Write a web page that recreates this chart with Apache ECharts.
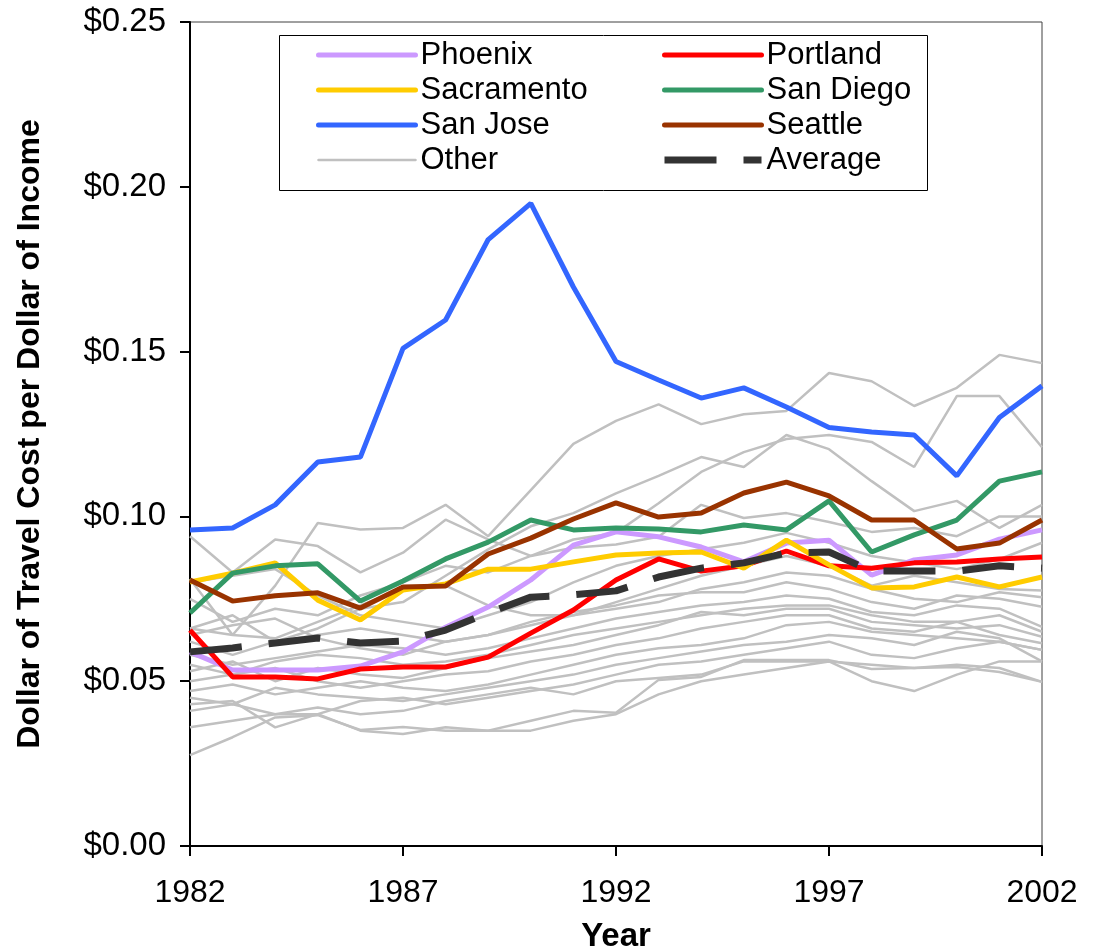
<!DOCTYPE html>
<html>
<head>
<meta charset="utf-8">
<script src="https://cdn.jsdelivr.net/npm/echarts@6/dist/echarts.min.js"></script>
<style>
  html, body { margin: 0; padding: 0; background: #fff; }
  #chart { width: 1095px; height: 952px; }
</style>
</head>
<body>
<div id="chart"></div>
<script>
const years = ['1982','1983','1984','1985','1986','1987','1988','1989','1990','1991','1992',
  '1993','1994','1995','1996','1997','1998','1999','2000','2001','2002'];

const phoenix = [0.0589,0.0534,0.0534,0.0534,0.0546,0.0589,0.0664,0.0725,0.0807,0.0913,0.0953,
  0.0938,0.0907,0.0862,0.0919,0.0928,0.0822,0.0868,0.0883,0.0931,0.0959];
const portland = [0.0655,0.0513,0.0513,0.0507,0.0537,0.0543,0.0543,0.0573,0.0646,0.0716,0.0807,
  0.0871,0.0834,0.0850,0.0895,0.0850,0.0843,0.0859,0.0862,0.0871,0.0877];
const sacramento = [0.0801,0.0828,0.0859,0.0746,0.0686,0.0777,0.0795,0.0840,0.0840,0.0862,0.0883,
  0.0889,0.0892,0.0843,0.0928,0.0853,0.0783,0.0786,0.0816,0.0786,0.0816];
const sanDiego = [0.0707,0.0828,0.0850,0.0856,0.0743,0.0804,0.0871,0.0922,0.0989,0.0959,0.0965,
  0.0962,0.0953,0.0974,0.0959,0.1047,0.0892,0.0944,0.0989,0.1107,0.1135];
const sanJose = [0.0959,0.0965,0.1035,0.1165,0.1180,0.1510,0.1596,0.1840,0.1950,0.1696,0.1470,
  0.1414,0.1359,0.1390,0.1332,0.1270,0.1256,0.1247,0.1123,0.1300,0.1396];
const seattle = [0.0807,0.0743,0.0759,0.0768,0.0722,0.0786,0.0789,0.0886,0.0934,0.0992,0.1041,
  0.0998,0.1010,0.1071,0.1104,0.1062,0.0989,0.0989,0.0901,0.0919,0.0989];
const average = [0.0589,0.0601,0.0616,0.0631,0.0616,0.0622,0.0655,0.0707,0.0755,0.0762,0.0774,
  0.0816,0.0843,0.0859,0.0889,0.0892,0.0834,0.0834,0.0834,0.0850,0.0843];

// remaining metro areas, drawn in gray
const others = [
  [0.081,0.064,0.079,0.098,0.096,0.0965,0.1035,0.094,0.108,0.122,0.129,0.134,0.128,0.131,0.132,0.1435,0.141,0.1335,0.139,0.149,0.1465],
  [0.094,0.083,0.093,0.091,0.083,0.089,0.099,0.093,0.088,0.0905,0.0915,0.0938,0.1035,0.0995,0.101,0.0983,0.0953,0.0965,0.094,0.100,0.100],
  [0.075,0.068,0.072,0.070,0.076,0.080,0.085,0.083,0.088,0.093,0.095,0.104,0.1135,0.1195,0.1235,0.1247,0.1226,0.115,0.1365,0.1365,0.121],
  [0.066,0.070,0.062,0.066,0.072,0.074,0.082,0.090,0.097,0.101,0.107,0.1123,0.118,0.115,0.1247,0.1204,0.1107,0.1016,0.1047,0.0965,0.1035],
  [0.080,0.082,0.084,0.076,0.070,0.068,0.066,0.070,0.074,0.080,0.085,0.088,0.090,0.092,0.095,0.092,0.088,0.086,0.084,0.087,0.092],
  [0.066,0.064,0.063,0.068,0.073,0.078,0.079,0.073,0.070,0.070,0.074,0.078,0.082,0.085,0.088,0.085,0.079,0.082,0.080,0.078,0.0775],
  [0.064,0.067,0.069,0.063,0.060,0.058,0.062,0.064,0.067,0.070,0.072,0.074,0.078,0.080,0.083,0.082,0.078,0.075,0.074,0.077,0.0755],
  [0.062,0.058,0.062,0.064,0.066,0.064,0.062,0.064,0.068,0.071,0.073,0.076,0.077,0.077,0.080,0.078,0.074,0.072,0.076,0.075,0.0726],
  [0.058,0.055,0.057,0.059,0.061,0.060,0.058,0.060,0.063,0.066,0.069,0.071,0.073,0.074,0.076,0.075,0.071,0.070,0.073,0.072,0.0665],
  [0.055,0.052,0.056,0.058,0.057,0.055,0.056,0.058,0.061,0.064,0.066,0.068,0.070,0.072,0.073,0.073,0.070,0.068,0.068,0.070,0.065],
  [0.053,0.056,0.050,0.054,0.052,0.051,0.054,0.057,0.059,0.061,0.064,0.067,0.071,0.070,0.072,0.072,0.068,0.067,0.066,0.067,0.0635],
  [0.050,0.052,0.054,0.050,0.048,0.050,0.052,0.053,0.056,0.058,0.061,0.063,0.066,0.068,0.070,0.070,0.066,0.065,0.068,0.064,0.0615],
  [0.047,0.049,0.046,0.048,0.050,0.048,0.047,0.049,0.052,0.055,0.058,0.060,0.061,0.063,0.067,0.068,0.065,0.064,0.063,0.062,0.0595],
  [0.045,0.043,0.048,0.046,0.045,0.044,0.046,0.048,0.050,0.052,0.055,0.057,0.059,0.061,0.062,0.064,0.063,0.061,0.065,0.063,0.056],
  [0.043,0.044,0.036,0.040,0.044,0.045,0.043,0.045,0.047,0.049,0.052,0.055,0.056,0.058,0.060,0.062,0.058,0.057,0.060,0.062,0.0595],
  [0.041,0.043,0.040,0.042,0.040,0.041,0.044,0.046,0.048,0.046,0.050,0.051,0.052,0.056,0.056,0.056,0.055,0.054,0.055,0.054,0.0498],
  [0.036,0.038,0.040,0.040,0.035,0.034,0.036,0.035,0.035,0.038,0.040,0.046,0.050,0.052,0.054,0.056,0.050,0.047,0.052,0.056,0.056],
  [0.0276,0.033,0.039,0.0397,0.0352,0.0361,0.035,0.035,0.038,0.041,0.0404,0.0504,0.0513,0.0564,0.0564,0.0564,0.0537,0.054,0.0543,0.0528,0.0498]
];

const chart = echarts.init(document.getElementById('chart'));
const font = 'Liberation Sans, Arial, sans-serif';

const named = [
  { name: 'Phoenix', data: phoenix, color: '#CC99FF' },
  { name: 'Portland', data: portland, color: '#FF0000' },
  { name: 'Sacramento', data: sacramento, color: '#FFCC00' },
  { name: 'San Diego', data: sanDiego, color: '#339966' },
  { name: 'San Jose', data: sanJose, color: '#3366FF' },
  { name: 'Seattle', data: seattle, color: '#993300' }
];

const series = [];
others.forEach(arr => {
  series.push({
    name: 'Other', type: 'line', data: arr, symbol: 'none', silent: true,
    lineStyle: { color: '#C0C0C0', width: 2.5 }, itemStyle: { color: '#C0C0C0' }
  });
});
named.forEach(s => {
  series.push({
    name: s.name, type: 'line', data: s.data, symbol: 'none',
    lineStyle: { color: s.color, width: 5 }, itemStyle: { color: s.color }
  });
});
series.push({
  name: 'Average', type: 'line', data: average, symbol: 'none',
  lineStyle: { color: '#333333', width: 7, type: [52, 27] }, itemStyle: { color: '#333333' }
});

const legendItem = (name, width) => ({ name, lineStyle: { width, type: 'solid', cap: 'round' } });

const legendCommon = {
  orient: 'vertical',
  top: 34,
  itemWidth: 97,
  itemHeight: 14,
  itemGap: 3,
  itemStyle: { opacity: 0 },
  textStyle: { fontFamily: font, fontSize: 31, color: '#000', lineHeight: 32 }
};

const option = {
  animation: false,
  backgroundColor: '#fff',
  grid: {
    left: 190, right: 53, top: 22, bottom: 106,
    outerBoundsMode: 'none',
    show: true, borderColor: '#404040', borderWidth: 1
  },
  legend: [
    Object.assign({ left: 311, data: [
      legendItem('Phoenix', 5), legendItem('Sacramento', 5), legendItem('San Jose', 5), legendItem('Other', 2.5)
    ] }, legendCommon),
    Object.assign({ left: 656, data: [
      legendItem('Portland', 5), legendItem('San Diego', 5), legendItem('Seattle', 5),
      { name: 'Average', lineStyle: { width: 7, type: [52, 27], cap: 'butt' } }
    ] }, legendCommon)
  ],
  graphic: [{
    type: 'rect', left: 277, top: 33, z: 10,
    shape: { width: 648, height: 155 },
    style: { fill: 'none', stroke: '#000', lineWidth: 1 }
  }],
  xAxis: {
    type: 'category',
    data: years,
    boundaryGap: false,
    name: 'Year',
    nameLocation: 'middle',
    nameGap: 74,
    nameTextStyle: { fontFamily: font, fontSize: 33, fontWeight: 'bold', color: '#000' },
    axisLine: { lineStyle: { color: '#000', width: 2 } },
    axisTick: { show: true, interval: 4, length: 10, inside: false, lineStyle: { color: '#000', width: 2 } },
    axisLabel: { interval: 4, margin: 31, fontFamily: font, fontSize: 32, color: '#000' },
    splitLine: { show: false }
  },
  yAxis: {
    type: 'value',
    min: 0, max: 0.25, interval: 0.05,
    name: 'Dollar of Travel Cost per Dollar of Income',
    nameLocation: 'middle',
    nameGap: 144,
    nameTextStyle: { fontFamily: font, fontSize: 32, fontWeight: 'bold', color: '#000' },
    axisLine: { show: true, lineStyle: { color: '#000', width: 2 } },
    axisTick: { show: true, length: 10, lineStyle: { color: '#000', width: 2 } },
    axisLabel: {
      margin: 24, fontFamily: font, fontSize: 33, color: '#000',
      formatter: v => '$' + v.toFixed(2)
    },
    splitLine: { show: false }
  },
  series: series
};

chart.setOption(option);
</script>
</body>
</html>
